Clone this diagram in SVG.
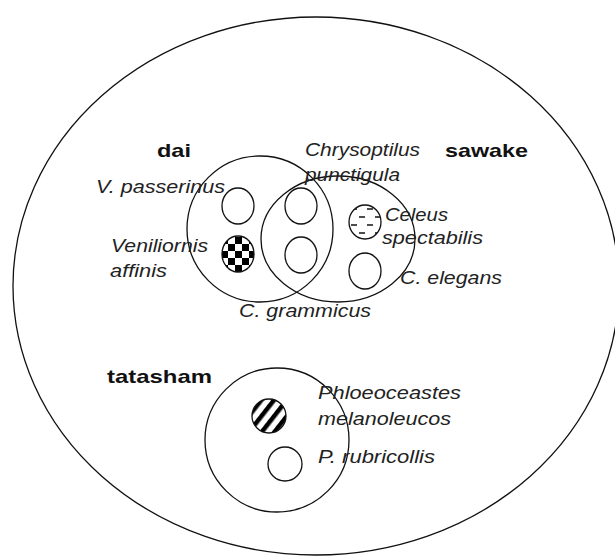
<svg xmlns="http://www.w3.org/2000/svg" width="615" height="557" viewBox="0 0 615 557">
<style>
.ln{fill:none;stroke:#111;stroke-width:1.3}
.sp{fill:#fff;stroke:#111;stroke-width:1.3}
.lb{font-family:"Liberation Sans",Arial,sans-serif;font-size:19px;font-weight:bold;fill:#111}
.it{font-family:"Liberation Sans",Arial,sans-serif;font-size:18px;font-style:italic;fill:#222}
</style>
<defs>
<pattern id="checker" x="221" y="237" width="14" height="14" patternUnits="userSpaceOnUse">
<rect width="14" height="14" fill="#fff"/>
<rect width="7" height="7" fill="#000"/>
<rect x="7" y="7" width="7" height="7" fill="#000"/>
</pattern>
<pattern id="dashes" x="349" y="205" width="16" height="16" patternUnits="userSpaceOnUse">
<rect width="16" height="16" fill="#fff"/>
<line x1="2" y1="4" x2="8" y2="4" stroke="#111" stroke-width="1.5"/>
<line x1="10" y1="12" x2="16" y2="12" stroke="#111" stroke-width="1.5"/>
</pattern>
<pattern id="hatch" x="0" y="0" width="10" height="10" patternUnits="userSpaceOnUse" patternTransform="rotate(38)">
<rect width="10" height="10" fill="#fff"/>
<rect width="4.5" height="10" fill="#000"/>
</pattern>
</defs>
<g id="outer"><ellipse class="ln" cx="316" cy="286" rx="303" ry="269" stroke-width="1.6"/></g>
<g id="dai">
<circle class="ln" cx="260" cy="229" r="73"/>
<text class="lb" x="157" y="157" textLength="34" lengthAdjust="spacingAndGlyphs">dai</text>
</g>
<g id="sawake">
<ellipse class="ln" cx="338" cy="239" rx="77" ry="63"/>
<text class="lb" x="445" y="157" textLength="83" lengthAdjust="spacingAndGlyphs">sawake</text>
</g>
<g id="tatasham">
<circle class="ln" cx="277" cy="440" r="72"/>
<text class="lb" x="107" y="383" textLength="105" lengthAdjust="spacingAndGlyphs">tatasham</text>
</g>
<g id="v-passerinus">
<ellipse class="sp" cx="238" cy="206" rx="16" ry="18"/>
<text class="it" x="96" y="193" textLength="129" lengthAdjust="spacingAndGlyphs">V. passerinus</text>
</g>
<g id="veniliornis-affinis">
<ellipse cx="238" cy="254" rx="16" ry="18" fill="url(#checker)" stroke="#111" stroke-width="1.3"/>
<text class="it" x="111" y="252" textLength="97" lengthAdjust="spacingAndGlyphs">Veniliornis</text>
<text class="it" x="110" y="277" textLength="57" lengthAdjust="spacingAndGlyphs">affinis</text>
</g>
<g id="chrysoptilus-punctigula">
<ellipse class="sp" cx="301" cy="206" rx="16" ry="18"/>
<text class="it" x="305" y="156" textLength="115" lengthAdjust="spacingAndGlyphs">Chrysoptilus</text>
<text class="it" x="305" y="181" textLength="95" lengthAdjust="spacingAndGlyphs">punctigula</text>
</g>
<g id="c-grammicus">
<ellipse class="sp" cx="301" cy="255" rx="16" ry="18"/>
<text class="it" x="239" y="317" textLength="132" lengthAdjust="spacingAndGlyphs">C. grammicus</text>
</g>
<g id="celeus-spectabilis">
<ellipse cx="365" cy="222" rx="16" ry="17" fill="url(#dashes)" stroke="#111" stroke-width="1.3"/>
<text class="it" x="385" y="221" textLength="63" lengthAdjust="spacingAndGlyphs">Celeus</text>
<text class="it" x="382" y="244" textLength="101" lengthAdjust="spacingAndGlyphs">spectabilis</text>
</g>
<g id="c-elegans">
<ellipse class="sp" cx="365" cy="271" rx="16" ry="18"/>
<text class="it" x="400" y="284" textLength="102" lengthAdjust="spacingAndGlyphs">C. elegans</text>
</g>
<g id="phloeoceastes-melanoleucos">
<circle cx="269" cy="416" r="17" fill="url(#hatch)" stroke="#111" stroke-width="1.3"/>
<text class="it" x="318" y="399" textLength="143" lengthAdjust="spacingAndGlyphs">Phloeoceastes</text>
<text class="it" x="318" y="425" textLength="133" lengthAdjust="spacingAndGlyphs">melanoleucos</text>
</g>
<g id="p-rubricollis">
<circle class="sp" cx="285" cy="464" r="17"/>
<text class="it" x="318" y="463" textLength="117" lengthAdjust="spacingAndGlyphs">P. rubricollis</text>
</g>
<g id="connectors"/>
</svg>
